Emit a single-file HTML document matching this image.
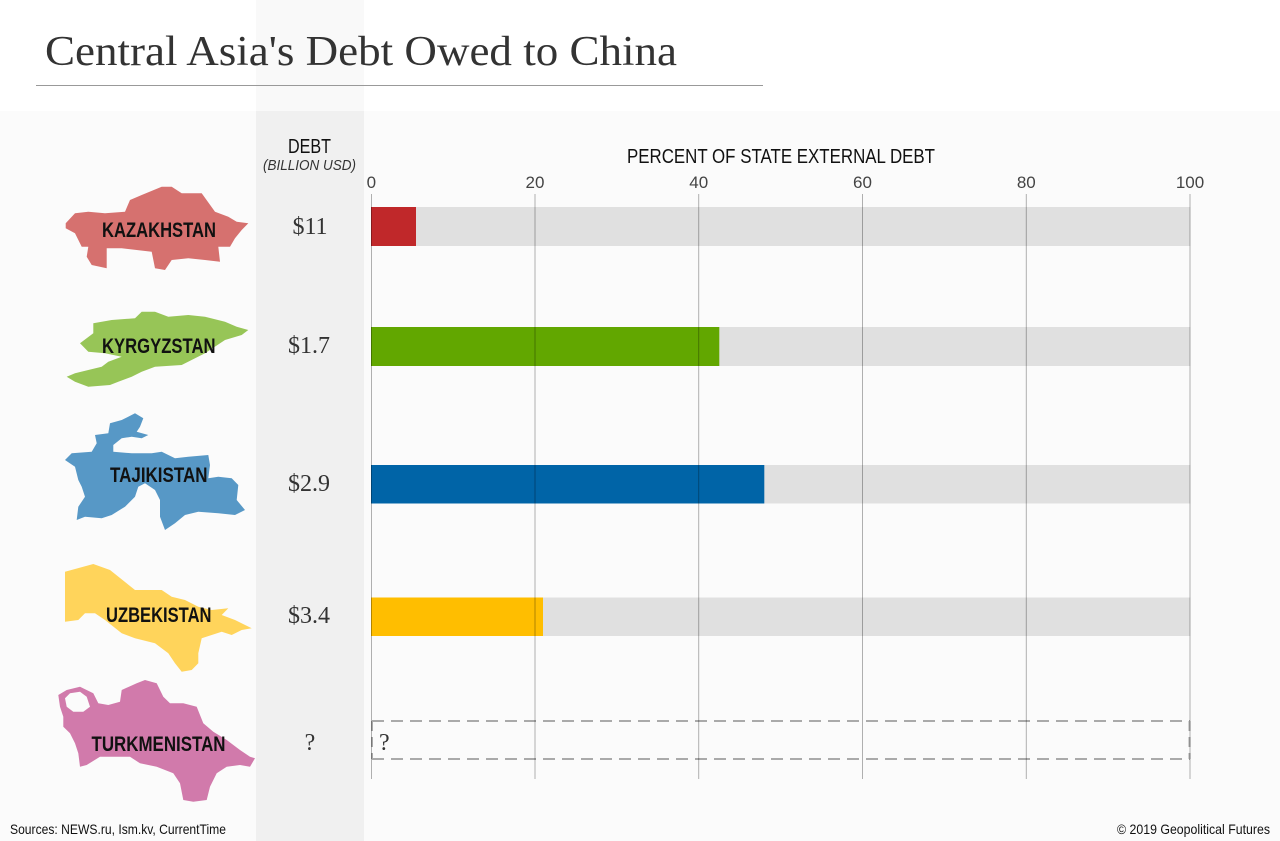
<!DOCTYPE html>
<html>
<head>
<meta charset="utf-8">
<style>
  html,body{margin:0;padding:0;background:#fff;}
  svg{display:block;}
  .lbl{font-family:"Liberation Sans",sans-serif;font-weight:bold;font-size:21px;fill:#111;}
  .val{font-family:"Liberation Serif",serif;font-size:24px;fill:#333;}
  .tick{font-family:"Liberation Sans",sans-serif;font-size:17px;fill:#444;}
</style>
</head>
<body>
<svg width="1280" height="841" viewBox="0 0 1280 841" xmlns="http://www.w3.org/2000/svg">
  <!-- backgrounds -->
  <rect x="0" y="0" width="1280" height="841" fill="#ffffff"/>
  <rect x="0" y="111" width="1280" height="730" fill="#fbfbfb"/>
  <rect x="256" y="0" width="108" height="111" fill="#f9f9f9"/>
  <rect x="256" y="111" width="108" height="730" fill="#f0f0f0"/>

  <!-- title -->
  <text x="45" y="65" font-family="'Liberation Serif',serif" font-size="42" fill="#333" textLength="632" lengthAdjust="spacingAndGlyphs">Central Asia's Debt Owed to China</text>
  <line x1="36" y1="85.5" x2="763" y2="85.5" stroke="#999" stroke-width="1"/>

  <!-- column headers -->
  <text x="288" y="153" font-family="'Liberation Sans',sans-serif" font-size="20" fill="#111" textLength="43" lengthAdjust="spacingAndGlyphs">DEBT</text>
  <text x="263" y="170" font-family="'Liberation Sans',sans-serif" font-style="italic" font-size="15" fill="#333" textLength="93" lengthAdjust="spacingAndGlyphs">(BILLION USD)</text>
  <text x="627" y="163" font-family="'Liberation Sans',sans-serif" font-size="20" fill="#111" textLength="308" lengthAdjust="spacingAndGlyphs">PERCENT OF STATE EXTERNAL DEBT</text>

  <!-- tick labels -->
  <text class="tick" x="371.3" y="188" text-anchor="middle">0</text>
  <text class="tick" x="535" y="188" text-anchor="middle">20</text>
  <text class="tick" x="698.7" y="188" text-anchor="middle">40</text>
  <text class="tick" x="862.5" y="188" text-anchor="middle">60</text>
  <text class="tick" x="1026.3" y="188" text-anchor="middle">80</text>
  <text class="tick" x="1190" y="188" text-anchor="middle">100</text>

  <!-- background bars -->
  <rect x="371" y="207" width="819.3" height="39" fill="#e0e0e0"/>
  <rect x="371" y="327" width="819.3" height="39" fill="#e0e0e0"/>
  <rect x="371" y="465" width="819.3" height="38.5" fill="#e0e0e0"/>
  <rect x="371" y="597.5" width="819.3" height="38.5" fill="#e0e0e0"/>

  <!-- value bars -->
  <rect x="371" y="207" width="45" height="39" fill="#c0282a"/>
  <rect x="371" y="327" width="348.3" height="39" fill="#62a700"/>
  <rect x="371" y="465" width="393.3" height="38.5" fill="#0064a7"/>
  <rect x="371" y="597.5" width="172" height="38.5" fill="#ffbe00"/>

  <!-- dashed unknown bar -->
  <g stroke="#aaa" stroke-width="2" fill="none">
    <line x1="372" y1="721" x2="1190" y2="721" stroke-dasharray="12 7"/>
    <line x1="372" y1="759" x2="1190" y2="759" stroke-dasharray="12 7"/>
    <line x1="372" y1="721" x2="372" y2="759" stroke-dasharray="10 6"/>
    <line x1="1189.5" y1="721" x2="1189.5" y2="759" stroke-dasharray="10 6"/>
  </g>
  <text class="val" x="379" y="750" font-size="28">?</text>

  <!-- gridlines -->
  <g stroke="rgba(0,0,0,0.3)" stroke-width="1">
    <line x1="371.5" y1="194" x2="371.5" y2="779"/>
    <line x1="535" y1="194" x2="535" y2="779"/>
    <line x1="698.7" y1="194" x2="698.7" y2="779"/>
    <line x1="862.5" y1="194" x2="862.5" y2="779"/>
    <line x1="1026.3" y1="194" x2="1026.3" y2="779"/>
    <line x1="1190" y1="194" x2="1190" y2="779"/>
  </g>

  <!-- debt values -->
  <text class="val" x="310" y="234" text-anchor="middle">$11</text>
  <text class="val" x="309" y="353" text-anchor="middle">$1.7</text>
  <text class="val" x="309" y="491" text-anchor="middle">$2.9</text>
  <text class="val" x="309" y="623" text-anchor="middle">$3.4</text>
  <text class="val" x="310" y="750" text-anchor="middle" font-size="28">?</text>

  <!-- Kazakhstan -->
  <polygon fill="#d6716f" points="65.7,223.3 75,213.3 88.3,211.7 105,213.3 125,211.7 130,200 141.7,195 161.7,186.7 171.7,186.7 181.7,193.3 201.7,193.3 215,211.7 228.3,216.7 236.7,221.7 248.3,223.3 241.7,230 235,238.3 230,246.7 218.3,246.7 220,261.7 205,260 188.3,258.3 171.7,260 165,270 155,268.3 151.7,251.7 121.7,248.3 106.7,248.3 106.7,268.3 91.7,265 86.7,256.7 88.3,246.7 81.7,246.7 75,233.3 65.7,228.3"/>
  <!-- Kyrgyzstan -->
  <polygon fill="#97c557" points="93.3,323.3 111.7,320 135,318.3 141.7,311.7 155,311.7 168.3,316.7 188.3,315 205,316.7 225,321.7 236.7,326.7 248.3,330 241.7,335 225,340 205,353.3 181.7,365 155,366.7 141.7,371.7 131.7,376.7 118.3,381.7 110,385 88.3,386.7 75,381.7 66.7,376.7 75,373.3 88.3,370 101.7,366.7 108.3,361.7 121.7,356.7 105,353.3 88.3,351.7 80,343.3 93.3,333.3"/>
  <!-- Tajikistan -->
  <polygon fill="#5798c6" points="65,460 71.7,453.3 91.7,451.7 96.7,443.3 95,435 108.3,433.3 110,423.3 121.7,420 135,413.3 143.3,418.3 140,426.7 136.7,431.7 148.3,435 141.7,438.3 131.7,436.7 121.7,438.3 113.3,445 113.3,451.7 131.7,453.3 151.7,453.3 161.7,451.7 175,458.3 188.3,456.7 208.3,455 210,465 208.3,478.3 218.3,476.7 231.7,478.3 238.3,485 236.7,500 245,510 235,515 218.3,513.3 198.3,511.7 185,515 175,523.3 165,530 160,516.7 160,500 155,490 145,483.3 138.3,486.7 135,496.7 125,506.7 111.7,515 101.7,518.3 85,516.7 76.7,520 78.3,506.7 85,496.7 81.7,486.7 78.3,480 75,466.7"/>
  <!-- Uzbekistan -->
  <polygon fill="#ffd45b" points="65,571.7 93.3,564 110,570 135,590 161.7,590 171.7,596.7 185,600 198.3,606.7 211.7,610 228.3,608.3 221.7,615 235,620 251.7,628.3 241.7,630 231.7,635 221.7,631.7 211.7,635 201.7,638.3 198.3,653.3 198.3,663.3 191.7,670 181.7,671.7 175,663.3 168.3,653.3 155,643.3 135,638.3 121.7,633.3 105,620 95,613.3 85,613.3 78.3,620 65,621.7"/>
  <!-- Turkmenistan -->
  <polygon fill="#d17aab" points="58.3,695 66.7,690 80,686.7 93.3,693.3 98.3,703.3 108.3,705 120,701.7 121.7,690 136.7,683.3 145,680 156.7,683.3 163.3,696.7 170,703.3 183.3,703.3 196.7,706.7 203.3,723.3 213.3,731.7 226.7,740 240,750 250,756.7 255,758.3 250,766.7 240,765 226.7,766.7 216.7,773.3 210,786.7 206.7,800 193.3,801.7 183.3,800 180,783.3 173.3,773.3 156.7,766.7 140,763.3 130,756.7 116.7,756.7 100,756.7 86.7,765 80,766.7 78.3,753.3 75,743.3 70,733.3 63.3,726.7 63.3,716.7 60,706.7"/>
  <polygon fill="#fbfbfb" points="65,698.3 70,693.3 80,691.7 86.7,696.7 90,706.7 83.3,711.7 73.3,711.7 66.7,706.7"/>

  <!-- country labels -->
  <text class="lbl" x="102" y="237" textLength="114" lengthAdjust="spacingAndGlyphs">KAZAKHSTAN</text>
  <text class="lbl" x="102" y="353" textLength="113.5" lengthAdjust="spacingAndGlyphs">KYRGYZSTAN</text>
  <text class="lbl" x="110" y="482" textLength="97.5" lengthAdjust="spacingAndGlyphs">TAJIKISTAN</text>
  <text class="lbl" x="106" y="622" textLength="105.5" lengthAdjust="spacingAndGlyphs">UZBEKISTAN</text>
  <text class="lbl" x="91.5" y="751" textLength="134" lengthAdjust="spacingAndGlyphs">TURKMENISTAN</text>

  <!-- footer -->
  <text x="10" y="834" font-family="'Liberation Sans',sans-serif" font-size="14" fill="#111" textLength="216" lengthAdjust="spacingAndGlyphs">Sources: NEWS.ru, Ism.kv, CurrentTime</text>
  <text x="1117" y="834" font-family="'Liberation Sans',sans-serif" font-size="14" fill="#111" textLength="153" lengthAdjust="spacingAndGlyphs">© 2019 Geopolitical Futures</text>
</svg>
</body>
</html>
